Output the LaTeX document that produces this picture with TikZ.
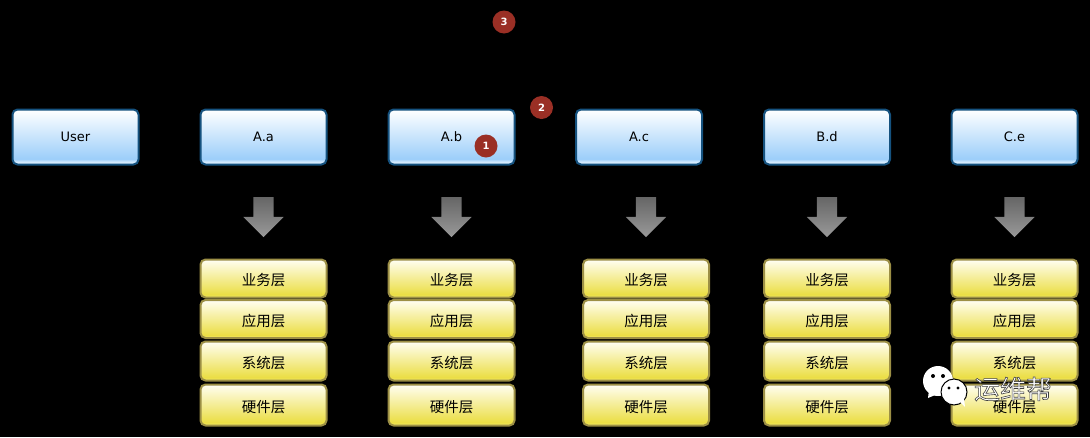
\documentclass[tikz,border=0pt]{standalone}
\usepackage{fontspec}
\setmainfont{DejaVu Sans}
\newfontfamily\cjk{Noto Sans CJK SC}
\usetikzlibrary{positioning,shapes.arrows}

\definecolor{blueedge}{HTML}{15527F}
\definecolor{yellowedge}{HTML}{9C8F45}
\definecolor{badgered}{HTML}{9A2F25}
\definecolor{bluelow}{HTML}{9CCEFA}
\definecolor{bluerim}{HTML}{D5EBFE}
\definecolor{yellowlow}{HTML}{EBDE45}
\definecolor{yellowrim}{HTML}{F3E96A}
\definecolor{yellowtop}{HTML}{FEFCE6}
\pgfdeclareverticalshading{bluefill}{100bp}{color(0bp)=(bluerim); color(25bp)=(bluerim); color(27.5bp)=(bluerim); color(30bp)=(bluelow); color(75bp)=(white); color(100bp)=(white)}
\pgfdeclareverticalshading{yellowfill}{100bp}{color(0bp)=(yellowrim); color(25bp)=(yellowrim); color(29bp)=(yellowlow); color(72bp)=(yellowtop); color(75bp)=(white); color(100bp)=(white)}
\newcommand{\layertext}[1]{\raisebox{-7pt}[0pt][0pt]{#1}}
\newcommand{\outlined}[1]{\special{pdf:code 2 Tr 0.6 w 0.25 0.25 0.25 RG}#1\special{pdf:code 0 Tr}}

\begin{document}
\begin{tikzpicture}[x=1pt,y=-1pt,inner sep=0pt,
    namebox/.style={draw=blueedge,line width=2pt,rounded corners=5pt,shading=bluefill,
        minimum width=126pt,minimum height=55pt,font=\fontsize{13}{15}\selectfont},
    layerbox/.style={draw=yellowedge,line width=2pt,rounded corners=5pt,shading=yellowfill,
        minimum width=126pt,font=\fontsize{14.5}{16}\selectfont\cjk},
    downarrow/.style={single arrow,shape border rotate=270,single arrow head extend=10pt,
        single arrow tip angle=90,inner sep=10pt,minimum width=40pt,minimum height=40pt,
        top color=black!60,bottom color=black!40},
    badge/.style={circle,fill=badgered,minimum size=23pt,text=white,
        font=\fontsize{10}{12}\selectfont\bfseries},
    bubble/.style={circle,fill=white}]
    \fill[black] (0,0) rectangle (1090,437);
    \useasboundingbox (0,0) rectangle (1090,437);

    \node[namebox] (User) at (75.5,137) {User};
    \node[namebox] (Aa) at (263.5,137) {A.a};
    \node[namebox] (Ab) at (451.5,137) {A.b};
    \node[namebox] (Ac) at (639,137) {A.c};
    \node[namebox] (Bd) at (827,137) {B.d};
    \node[namebox] (Ce) at (1014.5,137) {C.e};

    % arrows and stacks of layers
    \foreach \col/\xpos in {a/263.5,b/451.5,c/646,d/827,e/1014.5}{
        \node[downarrow] (arrow\col) at (\xpos,212) {};
        \node[layerbox,minimum height=38pt] (biz\col) at (\xpos,278.5) {\layertext{业务层}};
        \node[layerbox,minimum height=38pt] (app\col) at (\xpos,319) {\layertext{应用层}};
        \node[layerbox,minimum height=39pt] (sys\col) at (\xpos,361) {\layertext{系统层}};
        \node[layerbox,minimum height=41pt] (hw\col) at (\xpos,405) {\layertext{硬件层}};
    }

    \node[badge] (one) at (486,146) {1};
    \node[badge] (two) at (541.5,107.5) {2};
    \node[badge] (three) at (504,22) {3};

    % watermark
    \node[bubble,minimum size=30pt] (chatl) at (938,381) {};
    \fill[white] (929,390) -- (928,398) -- (940,393) -- cycle;
    \fill[black] (933,376) circle (2pt) (943,376) circle (2pt);
    \node[bubble,draw=black,line width=1pt,minimum size=26pt] (chatr) at (954,392) {};
    \fill[white] (960,402) -- (965,407) -- (964,398) -- cycle;
    \fill[black] (949,388) circle (1.7pt) (958,388) circle (1.7pt);
    \node[text=white,font=\fontsize{26}{28}\selectfont\cjk] (mark) at (1013,389) {\outlined{运维帮}};
\end{tikzpicture}
\end{document}
